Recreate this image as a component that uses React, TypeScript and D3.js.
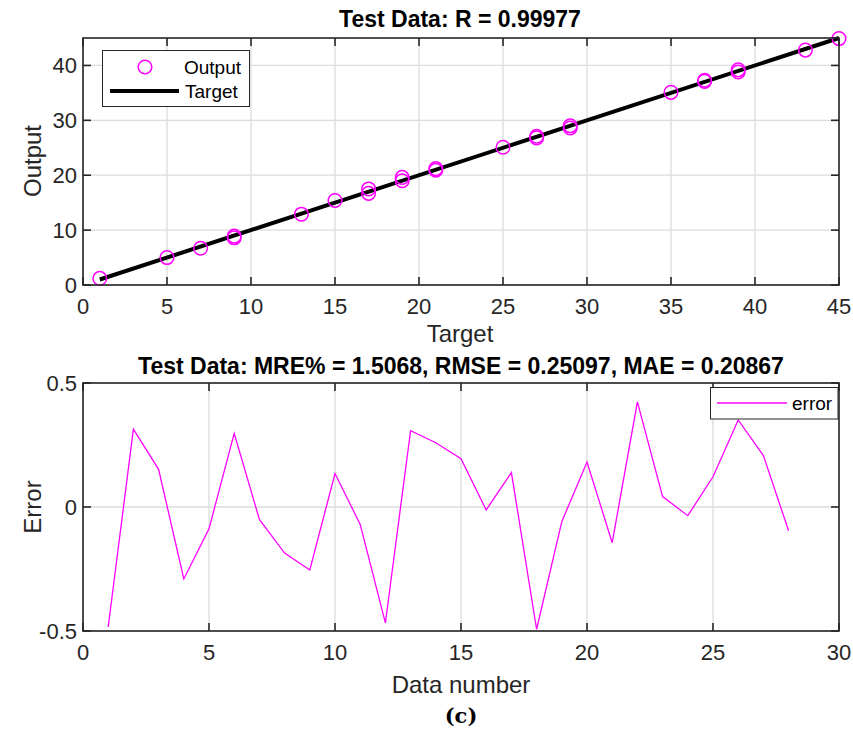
import React from "react";
import * as d3 from "d3";

// ---- Data ----
const targets = [1, 5, 7, 9, 9, 13, 15, 17, 17, 19, 19, 21, 21, 25, 27, 27, 29, 29, 35, 37, 37, 39, 39, 43, 45];
const outputs = [1.2, 5.0, 6.7, 8.6, 8.9, 12.9, 15.4, 17.5, 16.7, 19.6, 19.0, 21.2, 20.9, 25.1, 27.1, 26.8, 29.0, 28.6, 35.1, 37.3, 37.1, 39.2, 38.8, 42.8, 44.9];
const targetLine = [1, 45];
const errorValues = [
  -0.484, 0.314, 0.152, -0.29, -0.088, 0.297, -0.05, -0.186, -0.254, 0.135,
  -0.07, -0.467, 0.308, 0.259, 0.195, -0.012, 0.139, -0.493, -0.059, 0.181,
  -0.144, 0.424, 0.042, -0.035, 0.122, 0.351, 0.207, -0.096,
];
const topXTicks = [0, 5, 10, 15, 20, 25, 30, 35, 40, 45];
const topYTicks = [0, 10, 20, 30, 40];
const botXTicks = [0, 5, 10, 15, 20, 25, 30];
const botYTicks = [-0.5, 0, 0.5];
const botYTickLabels = ["-0.5", "0", "0.5"];

const FONT = "'Liberation Sans', Arial, Helvetica, sans-serif";
const AX = "#262626";
const GRID = "#dcdcdc";
const MAG = "#ff00ff";
const TICK_FS = 22;
const LABEL_FS = 24;
const TITLE_FS = 23;
const LEG_FS = 19;

function Grid({ x, y, xTicks, yTicks }: any) {
  const [x0, x1] = x.range();
  const [y0, y1] = y.range();
  return (
    <g>
      {xTicks.map((t: number) => (
        <line key={"gx" + t} x1={x(t)} x2={x(t)} y1={y0} y2={y1} stroke={GRID} strokeWidth={1.3} />
      ))}
      {yTicks.map((t: number) => (
        <line key={"gy" + t} x1={x0} x2={x1} y1={y(t)} y2={y(t)} stroke={GRID} strokeWidth={1.3} />
      ))}
    </g>
  );
}

function Box({ x, y, xTicks, yTicks, yLabels }: any) {
  const [x0, x1] = x.range();
  const [y0, y1] = y.range();
  const tl = 8;
  return (
    <g>
      <rect x={x0} y={y1} width={x1 - x0} height={y0 - y1} fill="none" stroke={AX} strokeWidth={1.6} />
      {xTicks.map((t: number) => (
        <g key={"tx" + t}>
          <line x1={x(t)} x2={x(t)} y1={y0} y2={y0 - tl} stroke={AX} strokeWidth={1.6} />
          <line x1={x(t)} x2={x(t)} y1={y1} y2={y1 + tl} stroke={AX} strokeWidth={1.6} />
          <text x={x(t)} y={y0 + 29} textAnchor="middle" fontSize={TICK_FS} fill={AX} fontFamily={FONT}>
            {t}
          </text>
        </g>
      ))}
      {yTicks.map((t: number, i: number) => (
        <g key={"ty" + t}>
          <line x1={x0} x2={x0 + tl} y1={y(t)} y2={y(t)} stroke={AX} strokeWidth={1.6} />
          <line x1={x1} x2={x1 - tl} y1={y(t)} y2={y(t)} stroke={AX} strokeWidth={1.6} />
          <text x={x0 - 6} y={y(t) + 8} textAnchor="end" fontSize={TICK_FS} fill={AX} fontFamily={FONT}>
            {yLabels ? yLabels[i] : t}
          </text>
        </g>
      ))}
    </g>
  );
}

export default function App() {
  const L = 83, R = 839;
  const xTop = d3.scaleLinear().domain([0, 45]).range([L, R]);
  const yTop = d3.scaleLinear().domain([0, 45]).range([285, 38]);
  const xBot = d3.scaleLinear().domain([0, 30]).range([L, R]);
  const yBot = d3.scaleLinear().domain([-0.5, 0.5]).range([631, 383]);

  const errLine = d3
    .line<number>()
    .x((_, i) => xBot(i + 1))
    .y((d) => yBot(d))(errorValues) as string;

  return (
    <svg width={853} height={736} style={{ position: "absolute", left: 0, top: 0, background: "#fff" }} fontFamily={FONT}>
      <rect x={0} y={0} width={853} height={736} fill="#fff" />
      {/* ---------- Top plot ---------- */}
      <Grid x={xTop} y={yTop} xTicks={topXTicks} yTicks={topYTicks} />
      <line
        x1={xTop(targetLine[0])}
        y1={yTop(targetLine[0])}
        x2={xTop(targetLine[1])}
        y2={yTop(targetLine[1])}
        stroke="#000"
        strokeWidth={4}
      />
      {targets.map((t, i) => (
        <circle key={i} cx={xTop(t)} cy={yTop(outputs[i])} r={6.8} fill="none" stroke={MAG} strokeWidth={1.5} />
      ))}
      <Box x={xTop} y={yTop} xTicks={topXTicks} yTicks={topYTicks} />
      <text x={460} y={27} textAnchor="middle" fontSize={TITLE_FS} fontWeight="bold" fill="#000">
        Test Data: R = 0.99977
      </text>
      <text x={460} y={342} textAnchor="middle" fontSize={LABEL_FS} fill={AX}>
        Target
      </text>
      <text transform={`translate(41,161) rotate(-90)`} textAnchor="middle" fontSize={LABEL_FS} fill={AX}>
        Output
      </text>
      {/* legend */}
      <rect x={102.5} y={50.5} width={147} height={56} fill="#fff" stroke={AX} strokeWidth={1} />
      <circle cx={145} cy={67} r={6.8} fill="none" stroke={MAG} strokeWidth={1.5} />
      <text x={184} y={74} fontSize={LEG_FS} fill="#000">Output</text>
      <line x1={110} x2={179} y1={91} y2={91} stroke="#000" strokeWidth={4} />
      <text x={185} y={98} fontSize={LEG_FS} fill="#000">Target</text>

      {/* ---------- Bottom plot ---------- */}
      <Grid x={xBot} y={yBot} xTicks={botXTicks} yTicks={botYTicks} />
      <path d={errLine} fill="none" stroke={MAG} strokeWidth={1.3} />
      <Box x={xBot} y={yBot} xTicks={botXTicks} yTicks={botYTicks} yLabels={botYTickLabels} />
      <text x={461} y={374} textAnchor="middle" fontSize={TITLE_FS} fontWeight="bold" fill="#000">
        Test Data: MRE% = 1.5068, RMSE = 0.25097, MAE = 0.20867
      </text>
      <text x={461} y={693} textAnchor="middle" fontSize={LABEL_FS} fill={AX}>
        Data number
      </text>
      <text transform={`translate(41,507) rotate(-90)`} textAnchor="middle" fontSize={LABEL_FS} fill={AX}>
        Error
      </text>
      {/* legend */}
      <rect x={710.5} y={387.5} width={127.5} height={31.5} fill="#fff" stroke={AX} strokeWidth={1} />
      <line x1={717} x2={787} y1={403} y2={403} stroke={MAG} strokeWidth={1.3} />
      <text x={792} y={410} fontSize={LEG_FS} fill="#000">error</text>

      {/* caption */}
      <text x={461} y={723} textAnchor="middle" fontSize={21} fontWeight="bold" fontFamily="'DejaVu Serif', 'Liberation Serif', serif" fill="#000">
        (c)
      </text>
    </svg>
  );
}
